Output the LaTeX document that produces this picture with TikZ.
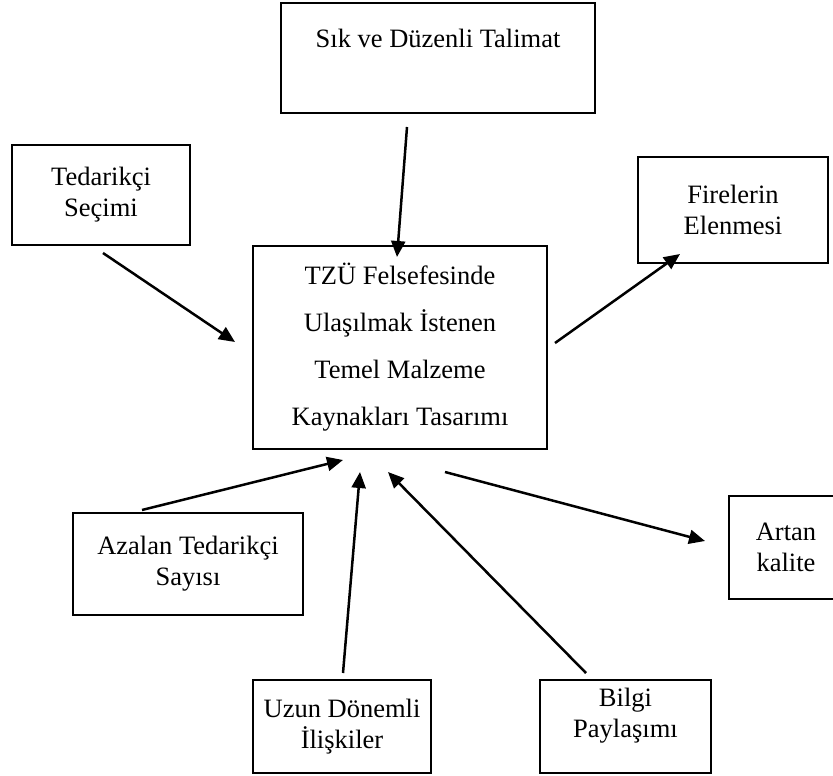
\documentclass[tikz,border=0pt]{standalone}
\usepackage{fontspec}
\setmainfont{Liberation Serif}
\usetikzlibrary{arrows.meta}
\begin{document}
\begin{tikzpicture}[x=1pt,y=-1pt,
  box/.style={draw, line width=2.5pt, inner sep=0pt, align=center, font=\fontsize{26.5}{31}\selectfont},
  txt/.style={inner sep=0pt, align=center, font=\fontsize{26.5}{31}\selectfont},
  arr/.style={line width=2.5pt, -{Triangle[length=16pt,width=14pt]}}]
\useasboundingbox (0,0) rectangle (833,776);
\clip (0,0) rectangle (833,776);
% boxes
\node[box, minimum width=314pt, minimum height=110pt] (talimat) at (438,58) {};
\node[txt] (talimatT) at (438,38) {Sık ve Düzenli Talimat};
\node[box, minimum width=178pt, minimum height=100pt] (tedarik) at (101,195) {Tedarikçi\\Seçimi};
\node[box, minimum width=190pt, minimum height=106pt] (fire) at (733,210) {Firelerin\\Elenmesi};
\node[box, minimum width=294pt, minimum height=203pt, font=\fontsize{26.5}{47}\selectfont] (merkez) at (400,347.5)
  {TZÜ Felsefesinde\\Ulaşılmak İstenen\\Temel Malzeme\\Kaynakları Tasarımı};
\node[box, minimum width=230pt, minimum height=102pt] (azalan) at (188,564) {Azalan Tedarikçi\\Sayısı};
\node[box, minimum width=114pt, minimum height=103pt] (artan) at (786,547.5) {Artan\\kalite};
\node[box, minimum width=178pt, minimum height=93pt] (uzun) at (342,726.5) {Uzun Dönemli\\İlişkiler};
\node[box, minimum width=171pt, minimum height=93pt] (bilgi) at (625.5,726.5) {};
\node[txt] (bilgiT) at (625.5,716) {Bilgi\\Paylaşımı};
% arrow end points
\coordinate (a1s) at (407,127); \coordinate (a1e) at (397,257);
\coordinate (a2s) at (103,253); \coordinate (a2e) at (235,342);
\coordinate (a3s) at (555,343); \coordinate (a3e) at (680,254);
\coordinate (a4s) at (142,510); \coordinate (a4e) at (343,460);
\coordinate (a5s) at (343,673); \coordinate (a5e) at (360,472);
\coordinate (a6s) at (586,673); \coordinate (a6e) at (388,472);
\coordinate (a7s) at (445,472); \coordinate (a7e) at (705,541);
\draw[arr] (a1s) -- (a1e);
\draw[arr] (a2s) -- (a2e);
\draw[arr] (a3s) -- (a3e);
\draw[arr] (a4s) -- (a4e);
\draw[arr] (a5s) -- (a5e);
\draw[arr] (a6s) -- (a6e);
\draw[arr] (a7s) -- (a7e);
\end{tikzpicture}
\end{document}
